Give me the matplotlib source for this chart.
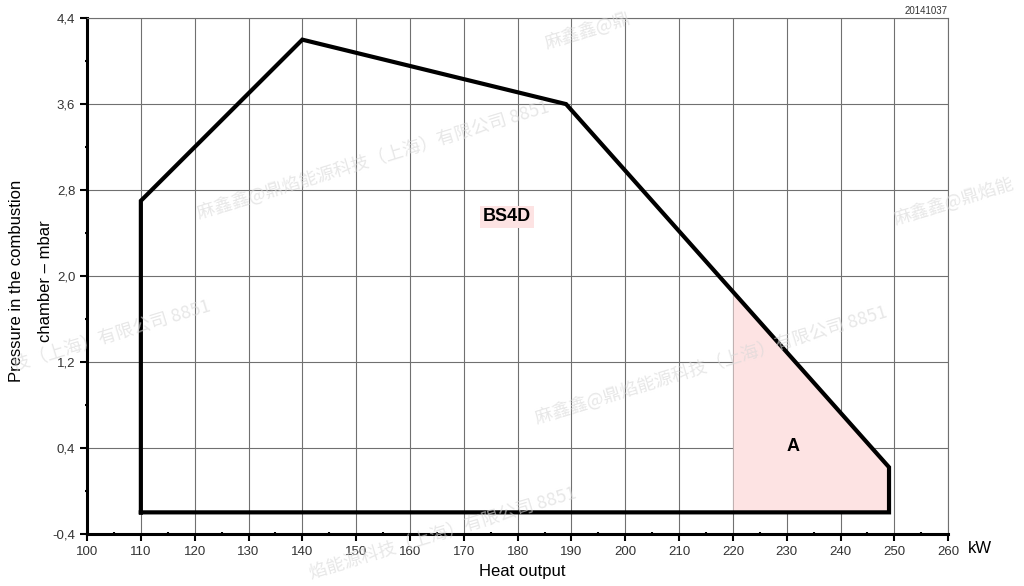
import matplotlib
matplotlib.use("Agg")
import matplotlib.pyplot as plt
import numpy as np

plt.rcParams['font.family'] = ['Liberation Sans', 'DejaVu Sans']

# working range of the burner (kW, mbar)
heat_kw = [110, 110, 140, 189, 249, 249, 110]
pressure = [-0.2, 2.7, 4.2, 3.6, 0.22, -0.2, -0.2]

# area A (pink)
area_a_kw = [220, 249]
area_a_hi = [1.85, 0.22]
area_a_lo = [-0.2, -0.2]

x_ticks = list(range(100, 261, 10))
y_ticks = [-0.4, 0.4, 1.2, 2.0, 2.8, 3.6, 4.4]
y_labels = ["-0,4", "0,4", "1,2", "2,0", "2,8", "3,6", "4,4"]

# faint watermarks (parts that show in the picture)
wm_texts = ["麻鑫鑫@鼎焰能源科技（上海）有限公司 8851",
            "技（上海）有限公司 8851",
            "麻鑫鑫@鼎焰能源科技（上海）有限公司 8851",
            "麻鑫鑫@鼎焰能",
            "焰能源科技（上海）有限公司 8851",
            "麻鑫鑫@鼎"]
wm_pos = [(0.19, 0.62), (0.01, 0.36), (0.52, 0.27), (0.87, 0.61), (0.3, 0.005), (0.53, 0.91)]

fig = plt.figure(figsize=(10.24, 5.86), dpi=100)
ax = fig.add_axes([0.085, 0.089, 0.841, 0.880])

ax.set_xlim(100, 260)
ax.set_ylim(-0.4, 4.4)

ax.fill_between(area_a_kw, area_a_hi, area_a_lo, color="#fde3e3", zorder=1, lw=0)

ax.grid(True, color="#707070", lw=0.8, zorder=0)
ax.set_axisbelow(True)

ax.plot(heat_kw, pressure, color="black", lw=3, solid_joinstyle="miter", zorder=3)
ax.plot([189, 249], [3.6, 0.22], color="black", lw=1.8, zorder=4)

ax.text(178, 2.55, "BS4D", fontsize=13, fontweight="bold", ha="center", va="center",
        bbox=dict(facecolor="#fde3e3", edgecolor="none", pad=2), zorder=5)
ax.text(231.2, 0.41, "A", fontsize=13, fontweight="bold", ha="center", va="center", zorder=5)

ax.set_xticks(x_ticks)
ax.set_xticklabels([str(v) for v in x_ticks], fontsize=9.5, color="#333333")
ax.set_yticks(y_ticks)
ax.set_yticklabels(y_labels, fontsize=9.5, color="#333333")
ax.set_xticks(np.arange(105, 260, 10), minor=True)
ax.set_yticks([0.0, 0.8, 1.6, 2.4, 3.2, 4.0], minor=True)
ax.tick_params(axis="both", which="major", length=5, width=1.5, direction="out")
ax.tick_params(axis="both", which="minor", length=3, width=1.5, direction="inout")

for s in ["left", "bottom"]:
    ax.spines[s].set_linewidth(2.2)
    ax.spines[s].set_color("black")
for s in ["top", "right"]:
    ax.spines[s].set_linewidth(0.8)
    ax.spines[s].set_color("#707070")

fig.text(0.51, 0.024, "Heat output", fontsize=12, ha="center", va="center")
fig.text(0.957, 0.064, "kW", fontsize=12, ha="center", va="center")
fig.text(0.03, 0.52, "Pressure in the combustion\nchamber \u2013 mbar", fontsize=12,
         ha="center", va="center", rotation=90, linespacing=2.2)
fig.text(0.925, 0.99, "20141037", fontsize=7, ha="right", va="top", color="#333333")

for t, (wx, wy) in zip(wm_texts, wm_pos):
    fig.text(wx, wy, t, fontsize=13, color="#d8d8d8", alpha=0.6, rotation=17,
             ha="left", va="bottom", family=["Noto Sans CJK SC", "DejaVu Sans"], zorder=10)

fig.savefig("out.png", dpi=100)
